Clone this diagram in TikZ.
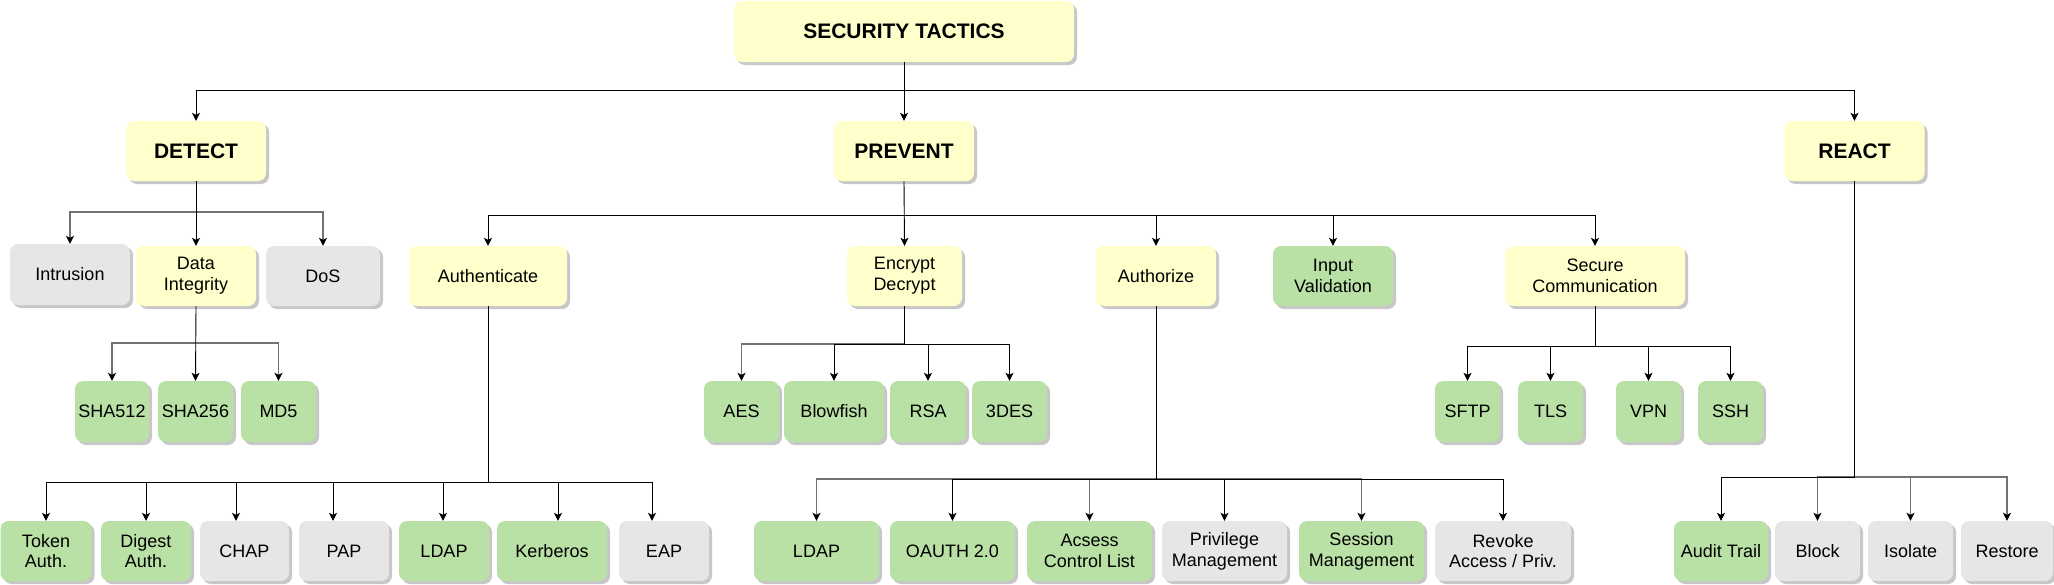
\documentclass[tikz,border=0pt]{standalone}
\usepackage{fontspec}
\setmainfont{Liberation Sans}
\usetikzlibrary{arrows.meta,shadows}
\definecolor{ylw}{HTML}{FFFFCC}
\definecolor{grn}{HTML}{B9E0A5}
\definecolor{gry}{HTML}{E6E6E6}
\tikzset{
 box/.style={rounded corners=8pt, draw=none, align=center, inner sep=0pt,
   font=\fontsize{18}{20.7}\selectfont,
   drop shadow={shadow xshift=3pt, shadow yshift=-3pt, fill=black, opacity=0.22}},
 yb/.style={box, fill=ylw},
 gb/.style={box, fill=grn},
 xb/.style={box, fill=gry},
 hb/.style={yb, font=\fontsize{21}{24}\selectfont\bfseries},
 arr/.style={draw=black, line width=0.9pt, -{Stealth[length=8pt,width=8pt,inset=2pt]}},
 garr/.style={draw=black!55, line width=1.3pt, -{Stealth[length=8pt,width=8pt,inset=2pt,color=black]}},
}
\begin{document}
\begin{tikzpicture}[x=1pt,y=-1pt]
\useasboundingbox (0,0) rectangle (2054,584);
% level 0
\node[hb, minimum width=340pt, minimum height=61pt] (st) at (904,31.5) {SECURITY TACTICS};
% level 1
\node[hb, minimum width=140pt, minimum height=60pt] (detect) at (196,151) {DETECT};
\node[hb, minimum width=140pt, minimum height=60pt] (prevent) at (904,151) {PREVENT};
\node[hb, minimum width=140pt, minimum height=60pt] (react) at (1854.5,151) {REACT};
% level 2
\node[xb, minimum width=120pt, minimum height=61pt] (intr) at (70,274.5) {Intrusion};
\node[yb, minimum width=120pt, minimum height=60pt] (di) at (196,276) {Data\\Integrity};
\node[xb, minimum width=114pt, minimum height=60pt] (dos) at (323,276) {DoS};
\node[yb, minimum width=158pt, minimum height=60pt] (auth) at (488,276) {Authenticate};
\node[yb, minimum width=115pt, minimum height=60pt] (enc) at (904.5,276) {Encrypt\\Decrypt};
\node[yb, minimum width=120pt, minimum height=60pt] (authz) at (1156,276) {Authorize};
\node[gb, minimum width=120pt, minimum height=60pt] (inval) at (1333,276) {Input\\Validation};
\node[yb, minimum width=180pt, minimum height=60pt] (secc) at (1595,276) {Secure\\Communication};
% level 3
\node[gb, minimum width=74pt, minimum height=61pt] (sha5) at (112,411.5) {SHA512};
\node[gb, minimum width=75pt, minimum height=61pt] (sha2) at (195.5,411.5) {SHA256};
\node[gb, minimum width=75pt, minimum height=61pt] (md5) at (278.5,411.5) {MD5};
\node[gb, minimum width=75pt, minimum height=61pt] (aes) at (741.5,411.5) {AES};
\node[gb, minimum width=100pt, minimum height=61pt] (blow) at (834,411.5) {Blowfish};
\node[gb, minimum width=76pt, minimum height=61pt] (rsa) at (928,411.5) {RSA};
\node[gb, minimum width=75pt, minimum height=61pt] (tdes) at (1009.5,411.5) {3DES};
\node[gb, minimum width=65pt, minimum height=61pt] (sftp) at (1467.5,411.5) {SFTP};
\node[gb, minimum width=65pt, minimum height=61pt] (tls) at (1550.5,411.5) {TLS};
\node[gb, minimum width=65pt, minimum height=61pt] (vpn) at (1648.5,411.5) {VPN};
\node[gb, minimum width=65pt, minimum height=61pt] (ssh) at (1730.5,411.5) {SSH};
% level 4
\node[gb, minimum width=91pt, minimum height=60pt] (token) at (46,551) {Token\\Auth.};
\node[gb, minimum width=90pt, minimum height=60pt] (digest) at (146,551) {Digest\\Auth.};
\node[xb, minimum width=89pt, minimum height=60pt] (chap) at (244.5,551) {CHAP};
\node[xb, minimum width=90pt, minimum height=60pt] (pap) at (344,551) {PAP};
\node[gb, minimum width=90pt, minimum height=60pt] (ldap) at (444,551) {LDAP};
\node[gb, minimum width=110pt, minimum height=60pt] (kerb) at (552,551) {Kerberos};
\node[xb, minimum width=90pt, minimum height=60pt] (eap) at (664,551) {EAP};
\node[gb, minimum width=125pt, minimum height=60pt] (ldapb) at (816.5,551) {LDAP};
\node[gb, minimum width=125pt, minimum height=60pt] (oauth) at (952.5,551) {OAUTH 2.0};
\node[gb, minimum width=125pt, minimum height=60pt] (acl) at (1089.5,551) {Acsess\\Control List};
\node[xb, minimum width=125pt, minimum height=60pt] (priv) at (1224.5,551) {Privilege\\Management};
\node[gb, minimum width=125pt, minimum height=60pt] (sess) at (1361.5,551) {Session\\Management};
\node[xb, minimum width=136pt, minimum height=60pt] (revoke) at (1503,551) {Revoke\\Access / Priv.};
\node[gb, minimum width=94pt, minimum height=60pt] (audit) at (1721,551) {Audit Trail};
\node[xb, minimum width=85pt, minimum height=60pt] (block) at (1817.5,551) {Block};
\node[xb, minimum width=85pt, minimum height=60pt] (isol) at (1910.5,551) {Isolate};
\node[xb, minimum width=92pt, minimum height=60pt] (rest) at (2007,551) {Restore};
% bus levels
\coordinate (b0) at (0,90);
\coordinate (b1) at (0,212);
\coordinate (b2) at (0,215);
\coordinate (b3) at (0,343);
\coordinate (b4) at (0,344);
\coordinate (b5) at (0,346);
\coordinate (b6) at (0,482);
\coordinate (b7) at (0,479);
\coordinate (b8) at (0,477);
% top
\draw[arr] (st.south) -- (prevent.north);
\draw[arr] (st.south |- b0) -| (detect.north);
\draw[arr] (st.south |- b0) -| (react.north);
% detect
\draw[garr] (detect.south |- b1) -| (intr.north);
\draw[garr] (detect.south |- b1) -| (dos.north);
\draw[arr] (detect.south) -- (di.north);
% data integrity
\draw[garr] (di.south |- b3) -| (sha5.north);
\draw[garr] (di.south |- b3) -| (md5.north);
\draw[arr] (di.south) -- (sha2.north);
% prevent
\draw[arr] (prevent.south) -- (enc.north);
\draw[arr] (prevent.south |- b2) -| (auth.north);
\draw[arr] (prevent.south |- b2) -| (authz.north);
\draw[arr] (prevent.south |- b2) -| (inval.north);
\draw[arr] (prevent.south |- b2) -| (secc.north);
% authenticate
\draw[arr] (auth.south) -- (auth.south |- b6) -| (token.north);
\draw[arr] (auth.south |- b6) -| (digest.north);
\draw[arr] (auth.south |- b6) -| ([xshift=-8.5pt]chap.north);
\draw[arr] (auth.south |- b6) -| ([xshift=-11pt]pap.north);
\draw[arr] (auth.south |- b6) -| ([xshift=-1pt]ldap.north);
\draw[arr] (auth.south |- b6) -| ([xshift=6pt]kerb.north);
\draw[arr] (auth.south |- b6) -| ([xshift=-12pt]eap.north);
% encrypt
\draw[garr] (enc.south |- b4) -| (aes.north);
\draw[arr] (enc.south) -- (enc.south |- b4) -| (blow.north);
\draw[arr] (enc.south |- b4) -| (rsa.north);
\draw[arr] (enc.south |- b4) -| (tdes.north);
% authorize
\draw[garr] (authz.south |- b7) -| (ldapb.north);
\draw[garr] (authz.south |- b7) -| (acl.north);
\draw[garr] (authz.south |- b7) -| (sess.north);
\draw[arr] (authz.south) -- (authz.south |- b7) -| (oauth.north);
\draw[arr] (authz.south |- b7) -| (priv.north);
\draw[arr] (authz.south |- b7) -| (revoke.north);
% secure communication
\draw[arr] (secc.south) -- (secc.south |- b5) -| (sftp.north);
\draw[arr] (secc.south |- b5) -| (tls.north);
\draw[arr] (secc.south |- b5) -| (vpn.north);
\draw[arr] (secc.south |- b5) -| (ssh.north);
% react
\draw[garr] (react.south |- b8) -| (block.north);
\draw[garr] (react.south |- b8) -| (isol.north);
\draw[garr] (react.south |- b8) -| (rest.north);
\draw[arr] (react.south) -- (react.south |- b8) -| (audit.north);
\end{tikzpicture}
\end{document}
